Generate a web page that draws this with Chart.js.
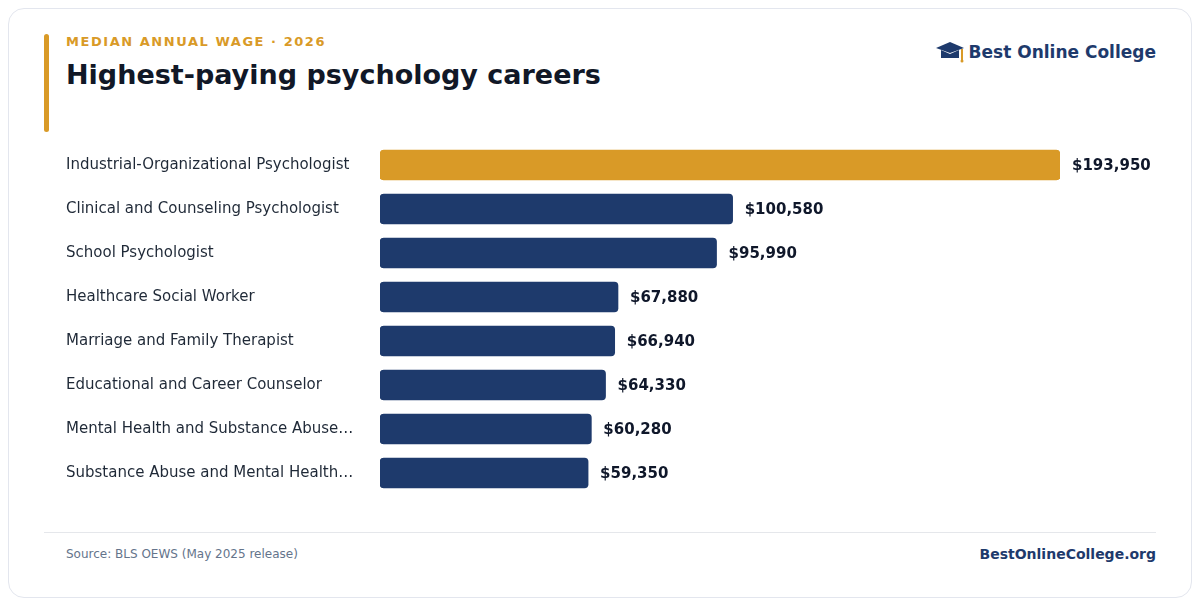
<!DOCTYPE html>
<html>
<head>
<meta charset="utf-8">
<script src="https://cdn.jsdelivr.net/npm/chart.js@4/dist/chart.umd.min.js"></script>
<style>
  html, body { margin: 0; padding: 0; background: #ffffff; }
  body { width: 1200px; height: 606px; position: relative; font-family: "DejaVu Sans", sans-serif; overflow: hidden; }
  .card { position: absolute; left: 8px; top: 8px; width: 1182px; height: 588px; border: 1px solid #e3e6ee; border-radius: 16px; background: #fff; }
  .accent { position: absolute; left: 44px; top: 34px; width: 5px; height: 98px; background: #d99a27; border-radius: 3px; }
  .kicker { position: absolute; left: 66px; top: 34px; font-size: 13px; font-weight: bold; letter-spacing: 1.55px; color: #d99a27; }
  .title { position: absolute; left: 66px; top: 59px; font-size: 27px; font-weight: bold; color: #111827; }
  .brand { position: absolute; right: 44px; top: 41px; display: flex; align-items: center; gap: 4px; font-size: 17px; font-weight: bold; color: #1e3a6c; }
  .chart-box { position: absolute; left: 66px; top: 143px; width: 1094px; height: 352px; }
  .rule { position: absolute; left: 44px; top: 532px; width: 1112px; height: 1px; background: #e5e7eb; }
  .source { position: absolute; left: 66px; top: 547px; font-size: 12px; color: #64748b; }
  .site { position: absolute; right: 44px; top: 546px; font-size: 14px; font-weight: bold; color: #1e3a6c; }
</style>
</head>
<body>
<div class="card"></div>
<div class="accent"></div>
<div class="kicker">MEDIAN ANNUAL WAGE · 2026</div>
<div class="title">Highest-paying psychology careers</div>
<div class="brand">
  <svg width="30" height="22" viewBox="0 0 30 22">
    <polygon points="1,7 15,1 29,7 15,12" fill="#1e3a6c"/>
    <path d="M6,9 L6,17 L24,17 L24,9 L15,13 Z" fill="#1e3a6c"/>
    <line x1="27" y1="8" x2="27" y2="19" stroke="#d99a27" stroke-width="2"/>
    <circle cx="27" cy="20" r="1.5" fill="#d99a27"/>
  </svg>
  <span>Best Online College</span>
</div>
<div class="chart-box"><canvas id="wageChart"></canvas></div>
<div class="rule"></div>
<div class="source">Source: BLS OEWS (May 2025 release)</div>
<div class="site">BestOnlineCollege.org</div>

<script>
const careers = [
  'Industrial-Organizational Psychologist',
  'Clinical and Counseling Psychologist',
  'School Psychologist',
  'Healthcare Social Worker',
  'Marriage and Family Therapist',
  'Educational and Career Counselor',
  'Mental Health and Substance Abuse…',
  'Substance Abuse and Mental Health…'
];
const wages = [193950, 100580, 95990, 67880, 66940, 64330, 60280, 59350];
const barColors = ['#d99a27', '#1e3a6c', '#1e3a6c', '#1e3a6c', '#1e3a6c', '#1e3a6c', '#1e3a6c', '#1e3a6c'];

// labels at the end of each bar
const valueLabels = {
    id: 'valueLabels',
    afterDatasetsDraw(chart) {
        const ctx = chart.ctx;
        const meta = chart.getDatasetMeta(0);
        ctx.save();
        ctx.font = 'bold 15px "DejaVu Sans", sans-serif';
        ctx.fillStyle = '#0f172a';
        ctx.textAlign = 'left';
        ctx.textBaseline = 'middle';
        meta.data.forEach((bar, i) => {
            ctx.fillText('$' + wages[i].toLocaleString('en-US'), bar.x + 12, bar.y + 1);
        });
        ctx.restore();
    }
};

new Chart(document.getElementById('wageChart'), {
    type: 'bar',
    data: {
        labels: careers,
        datasets: [{
            data: wages,
            backgroundColor: barColors,
            borderRadius: 4,
            borderSkipped: false,
            barThickness: 30
        }]
    },
    options: {
        indexAxis: 'y',
        responsive: true,
        maintainAspectRatio: false,
        animation: false,
        layout: { padding: { left: 0, right: 100, top: 0, bottom: 0 } },
        plugins: {
            legend: { display: false },
            tooltip: { enabled: false }
        },
        scales: {
            x: {
                display: false,
                min: 0,
                max: 193950
            },
            y: {
                grid: { display: false },
                border: { display: false },
                afterFit(scale) {
                    scale.width = 314;
                    scale.paddingTop = 0;
                    scale.paddingBottom = 0;
                },
                ticks: {
                    crossAlign: 'far',
                    color: '#1f2937',
                    font: { family: '"DejaVu Sans", sans-serif', size: 15 }
                }
            }
        }
    },
    plugins: [valueLabels]
});
</script>
</body>
</html>
